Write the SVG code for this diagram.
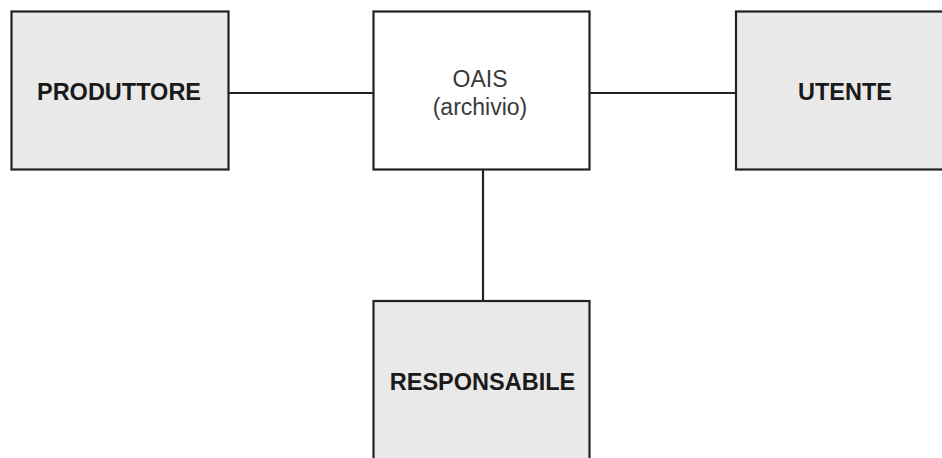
<svg xmlns="http://www.w3.org/2000/svg" width="942" height="458" viewBox="0 0 942 458">
  <style>
    .box { stroke: #222; stroke-width: 2.2; }
    .ext { fill: #e9e9e9; }
    .core { fill: #ffffff; }
    .link { stroke: #222; stroke-width: 2.2; fill: none; }
    .lbl-b { font-family: "Liberation Sans", Arial, sans-serif; font-weight: bold; font-size: 23.5px; fill: #1a1a1a; text-anchor: middle; }
    .lbl-r { font-family: "Liberation Sans", Arial, sans-serif; font-size: 23px; fill: #3a3a3a; text-anchor: middle; }
  </style>
  <rect width="942" height="458" fill="#ffffff"/>

  <g id="connectors">
    <line class="link" x1="228.5" y1="93" x2="373.5" y2="93"/>
    <line class="link" x1="589.5" y1="93" x2="736" y2="93"/>
    <line class="link" x1="483" y1="169.5" x2="483" y2="301"/>
  </g>

  <g id="produttore">
    <rect class="box ext" x="11.5" y="11.5" width="217" height="158"/>
    <text class="lbl-b" x="119" y="100">PRODUTTORE</text>
  </g>

  <g id="oais">
    <rect class="box core" x="373.5" y="11.5" width="216" height="158"/>
    <text class="lbl-r" x="480" y="87">OAIS</text>
    <text class="lbl-r" x="480" y="115">(archivio)</text>
  </g>

  <g id="utente">
    <rect class="box ext" x="736" y="11.5" width="217" height="158"/>
    <text class="lbl-b" x="845" y="100">UTENTE</text>
  </g>

  <g id="responsabile">
    <rect class="box ext" x="373.5" y="301" width="216" height="170"/>
    <text class="lbl-b" x="482.5" y="390">RESPONSABILE</text>
  </g>
</svg>
